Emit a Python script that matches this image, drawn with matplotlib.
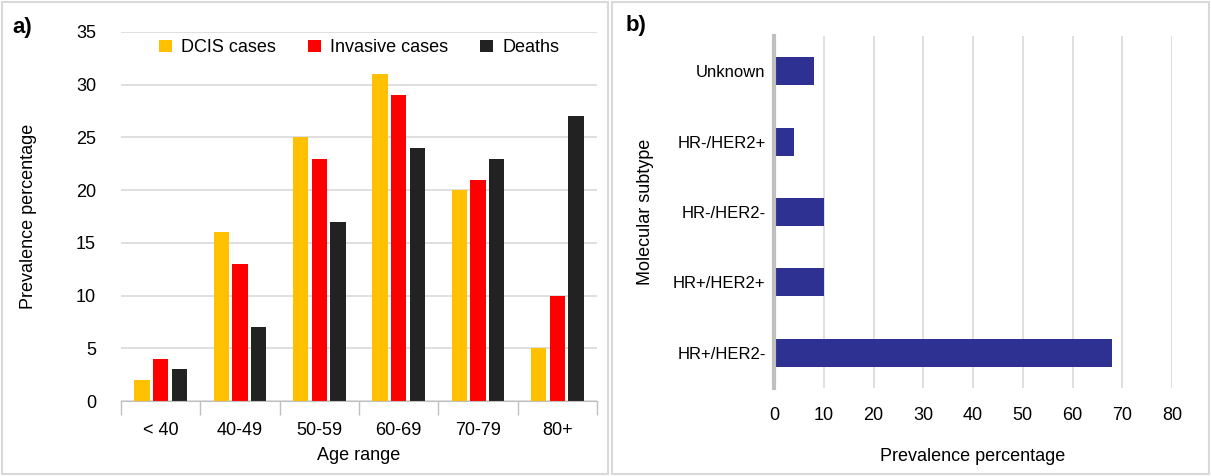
import matplotlib.pyplot as plt
import numpy as np
from matplotlib.patches import Rectangle
from matplotlib import font_manager

nomes = [f.name for f in font_manager.fontManager.ttflist]
fonte = 'Liberation Sans Narrow' if 'Liberation Sans Narrow' in nomes else 'Liberation Sans'
plt.rcParams['font.family'] = [fonte, 'DejaVu Sans']

# dados painel a
faixas = ["< 40", "40-49", "50-59", "60-69", "70-79", "80+"]
dcis = [2, 16, 25, 31, 20, 5]
invasivos = [4, 13, 23, 29, 21, 10]
mortes = [3, 7, 17, 24, 23, 27]

# dados painel b
subtipos = ["HR+/HER2-", "HR+/HER2+", "HR-/HER2-", "HR-/HER2+", "Unknown"]
prevalencia = [68, 10, 10, 4, 8]

fig = plt.figure(figsize=(12.11, 4.76), dpi=100)

# bordas dos paineis
for x0, x1 in [(2, 608), (612, 1209)]:
    fig.patches.append(Rectangle((x0 / 1211, 2 / 476), (x1 - x0) / 1211, 472 / 476,
                                 transform=fig.transFigure, fill=False,
                                 edgecolor='#D9D9D9', linewidth=1.5))

# ---------- painel a
ax1 = fig.add_axes([121 / 1211, 75 / 476, 476 / 1211, 369 / 476])
x = np.arange(len(faixas))
larg = 0.19
passo = 0.235
ax1.bar(x - passo, dcis, larg, color='#FFC000', label='DCIS cases', zorder=3)
ax1.bar(x, invasivos, larg, color='#FF0000', label='Invasive cases', zorder=3)
ax1.bar(x + passo, mortes, larg, color='#222222', label='Deaths', zorder=3)
ax1.set_xlim(-0.5, len(faixas) - 0.5)
ax1.set_ylim(0, 35)
ax1.set_yticks(range(0, 36, 5))
ax1.set_xticks(x)
ax1.set_xticklabels(faixas)
ax1.set_xticks(np.arange(-0.5, len(faixas), 1), minor=True)
ax1.tick_params(axis='x', which='major', length=0, pad=15, labelsize=13)
ax1.tick_params(axis='x', which='minor', length=10, color='#BFBFBF', width=1)
ax1.tick_params(axis='y', length=0, pad=18, labelsize=13)
ax1.grid(axis='y', color='#D9D9D9', linewidth=1.2, zorder=0)
for s in ['top', 'right', 'left']:
    ax1.spines[s].set_visible(False)
ax1.spines['bottom'].set_color('#BFBFBF')
ax1.spines['bottom'].set_zorder(4)
ax1.set_xlabel("Age range", fontsize=13, labelpad=6)
ax1.set_ylabel("Prevalence percentage", fontsize=13, labelpad=28)
ax1.legend(loc='upper center', bbox_to_anchor=(0.5, 1.0), ncol=3, frameon=False,
           fontsize=13, handlelength=0.7, handleheight=0.7, columnspacing=1.8,
           handletextpad=0.5, borderaxespad=0.0)
fig.text(12 / 1211, 1 - 28 / 476, "a)", fontsize=16, fontweight='bold', va='center')

# ---------- painel b
ax2 = fig.add_axes([774 / 1211, 88 / 476, 398 / 1211, 352 / 476])
y = np.arange(len(subtipos))
ax2.barh(y, prevalencia, 0.4, color='#2E3192', zorder=3)
ax2.set_xlim(0, 80)
ax2.set_ylim(-0.5, len(subtipos) - 0.5)
ax2.set_xticks(range(0, 81, 10))
ax2.set_yticks(y)
ax2.set_yticklabels(subtipos)
ax2.tick_params(axis='x', length=0, pad=14, labelsize=13)
ax2.tick_params(axis='y', length=0, pad=6, labelsize=12)
ax2.grid(axis='x', color='#D9D9D9', linewidth=1.2, zorder=0)
for s in ['top', 'right', 'bottom']:
    ax2.spines[s].set_visible(False)
ax2.spines['left'].set_color('#BFBFBF')
ax2.spines['left'].set_linewidth(3)
ax2.spines['left'].set_zorder(4)
ax2.set_xlabel("Prevalence percentage", fontsize=13, labelpad=17)
ax2.set_ylabel("Molecular subtype", fontsize=13, labelpad=14)
fig.text(626 / 1211, 1 - 26 / 476, "b)", fontsize=16, fontweight='bold', va='center')

fig.savefig("out.png", dpi=100)
